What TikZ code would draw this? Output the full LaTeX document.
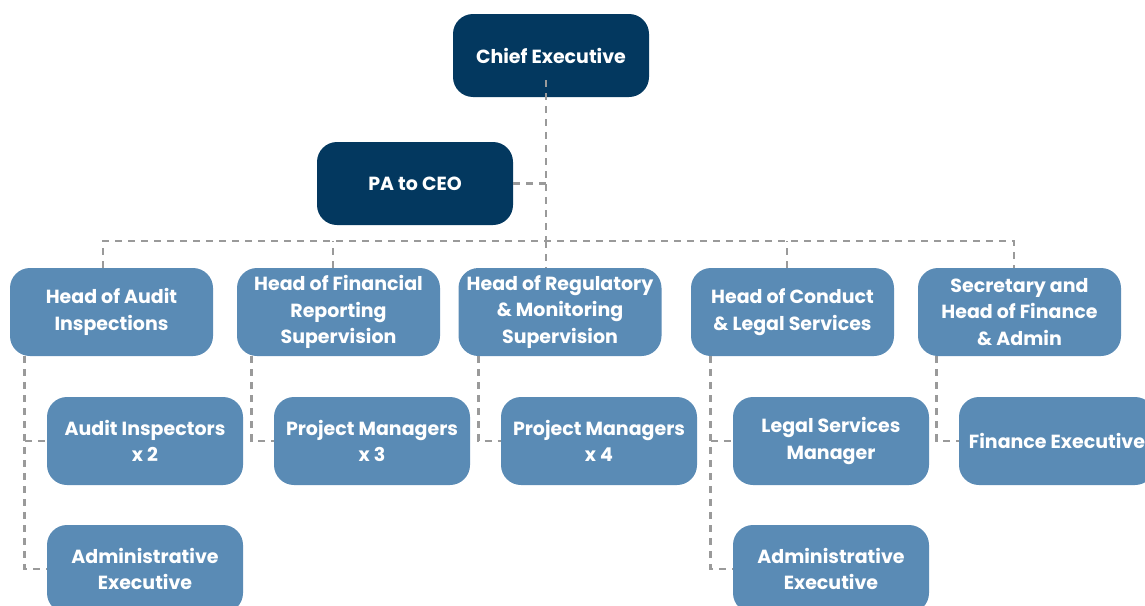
\documentclass[tikz,border=0pt]{standalone}
\usepackage{fontspec}
\setmainfont{Poppins}
\usepackage{tikz}
\usetikzlibrary{positioning,calc}
\definecolor{navy}{HTML}{03385F}
\definecolor{steel}{HTML}{5A8BB5}
\definecolor{linkgray}{HTML}{9A9A9A}
\tikzset{box/.style={rounded corners=20pt, align=center, text=white, font=\bfseries\fontsize{19}{26.5}\selectfont, inner sep=0pt},
	link/.style={draw=linkgray, line width=2.7pt, dash pattern=on 7pt off 6pt}}
\newcommand{\drawtop}{\node[box, fill=navy, minimum width=196pt, minimum height=83pt]}
\newcommand{\drawhead}{\node[box, fill=steel, minimum width=203pt, minimum height=88pt]}
\newcommand{\drawstaff}{\node[box, fill=steel, minimum width=196pt, minimum height=88pt]}

\begin{document}
\begin{tikzpicture}[x=1pt,y=-1pt]
	\useasboundingbox (0,0) rectangle (1145,605);
	
	\drawtop (ceo) at (551,55.5) {Chief Executive};
	\drawtop (pa) at (415,183.5) {PA to CEO};
	
	% heads of department
	\drawhead (hAudit) at (111.5,312) {Head of Audit\\Inspections};
	\drawhead (hFin) at (338.5,312) {Head of Financial\\Reporting\\Supervision};
	\drawhead (hReg) at (560,312) {Head of Regulatory\\\& Monitoring\\Supervision};
	\drawhead (hCond) at (792.5,312) {Head of Conduct\\\& Legal Services};
	\drawhead (hSec) at (1019.5,312) {Secretary and\\Head of Finance\\\& Admin};
	
	% staff
	\drawstaff (audInsp) at (145,441) {Audit Inspectors\\x 2};
	\drawstaff (pmFin) at (372,441) {Project Managers\\x 3};
	\drawstaff (pmReg) at (599,441) {Project Managers\\x 4};
	\drawstaff (legMgr) at (831,441) {Legal Services\\Manager};
	\drawstaff (finExec) at (1057,441) {Finance Executive};
	\drawstaff (audAdmin) at (145,569) {Administrative\\Executive};
	\drawstaff (condAdmin) at (831,569) {Administrative\\Executive};
	
	\coordinate (bus) at (546,241);
	
	\draw[link] ([xshift=-5pt,yshift=17pt]ceo.south) -- (bus);
	\draw[link] (pa.east) -- (pa.east -| bus);
	\draw[link] ([xshift=-8.5pt]hAudit.north) |- (bus) -| ([xshift=-5.5pt]hSec.north);
	\draw[link] ([xshift=-5.5pt]hFin.north) -- ([xshift=-5.5pt]hFin.north |- bus);
	\draw[link] (bus) -- (bus |- hReg.north);
	\draw[link] ([xshift=-5.5pt]hCond.north) -- ([xshift=-5.5pt]hCond.north |- bus);
	
	\draw[link] ([xshift=15pt]hAudit.south west) |- (audAdmin.west);
	\draw[link] ([xshift=15pt]hAudit.south west |- audInsp.west) -- (audInsp.west);
	\draw[link] ([xshift=15pt]hFin.south west) |- (pmFin.west);
	\draw[link] ([xshift=20pt]hReg.south west) |- (pmReg.west);
	\draw[link] ([xshift=20pt]hCond.south west) |- (condAdmin.west);
	\draw[link] ([xshift=20pt]hCond.south west |- legMgr.west) -- (legMgr.west);
	\draw[link] ([xshift=19pt]hSec.south west) |- (finExec.west);
	
\end{tikzpicture}
\end{document}
